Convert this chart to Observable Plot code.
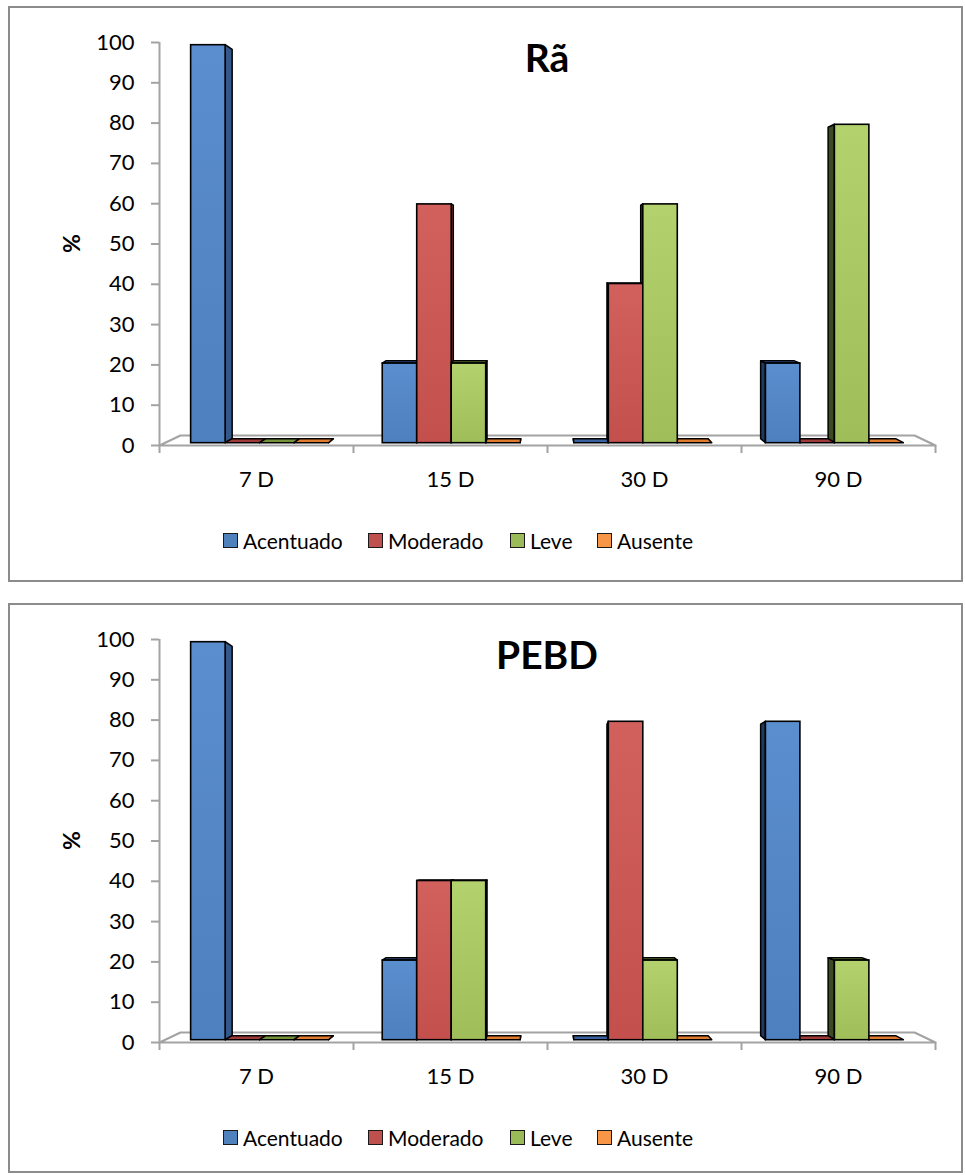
<!DOCTYPE html>
<html>
<head>
<meta charset="utf-8">
<script src="https://cdn.jsdelivr.net/npm/d3@7"></script>
<script src="https://cdn.jsdelivr.net/npm/@observablehq/plot@0.6"></script>
<style>
  body { margin: 0; background: #fff; font-family: Lato, "Open Sans", sans-serif; }
  .panel { position: absolute; left: 0; width: 965px; height: 590px; }
  .frame { position: absolute; left: 8px; top: 6px; width: 955px; height: 576px;
           border: 2px solid #8c8c8c; box-sizing: border-box; }
  .plot { position: absolute; left: 0; top: 0; }
  .title { position: absolute; left: 347px; width: 400px; top: 38px; text-align: center;
           font-weight: bold; font-size: 39px; line-height: 39px; color: #000; }
  .legend { position: absolute; left: 0; top: 530px; height: 21px; width: 965px; }
  .item { position: absolute; top: 0; display: flex; align-items: center;
          font-size: 21px; line-height: 21px; color: #000; white-space: nowrap; }
  .sw { width: 13px; height: 13px; border: 1.5px solid #1a1a1a; margin-right: 5px; }
</style>
</head>
<body>
<svg width="0" height="0" style="position:absolute">
  <defs id="grads"></defs>
</svg>
<div id="root"></div>
<script>
// Categories, series and tick values
const categories = ["7 D", "15 D", "30 D", "90 D"];
const series = ["Acentuado", "Moderado", "Leve", "Ausente"];
const yTicks = [0, 10, 20, 30, 40, 50, 60, 70, 80, 90, 100];

// Rã (% per series, one value per category)
const raAcentuado = [100, 20, 0, 20];
const raModerado  = [0, 60, 40, 0];
const raLeve      = [0, 20, 60, 80];
const raAusente   = [0, 0, 0, 0];

// PEBD
const pebdAcentuado = [100, 20, 0, 80];
const pebdModerado  = [0, 40, 80, 0];
const pebdLeve      = [0, 40, 20, 20];
const pebdAusente   = [0, 0, 0, 0];

// Colours per series
const legendColors = ["#4F81BD", "#C0504D", "#9BBB59", "#F79646"];
const frontTop     = ["#5B8ECE", "#D2605C", "#B3D26E", "#F9A462"];
const frontBottom  = ["#4E7FBE", "#C3504C", "#9FBE5A", "#F79646"];
const sideRight    = ["#35588A", "#8A3432", "#5E7530", "#B8661F"];
const sideLeft     = ["#213A5E", "#5C1F1D", "#3C4B1F", "#8A4A14"];
const topColors    = ["#3B62A0", "#9E3A37", "#74923A", "#E07A2C"];

// Gradients for the front faces
const defs = d3.select("#grads");
series.forEach((s, k) => {
  const g = defs.append("linearGradient").attr("id", `front${k}`)
    .attr("x1", 0).attr("y1", 0).attr("x2", 0).attr("y2", 1);
  g.append("stop").attr("offset", "0%").attr("stop-color", frontTop[k]);
  g.append("stop").attr("offset", "100%").attr("stop-color", frontBottom[k]);
});

// Simple perspective: points recede toward a vanishing point in data space
const VX = categories.length / 2, VY = 46;
const D_FRONT = 0.0124, D_BACK = 0.034, D_FLOOR = 0.054;
const GROUP_OFFSET = 0.14, BAR_W = 0.18;
const proj = (x, y, d) => [x + (VX - x) * d, y + (VY - y) * d];

function buildFaces(valuesBySeries) {
  const fronts = [], sides = [], tops = [];
  categories.forEach((c, i) => series.forEach((s, k) => {
    const v = valuesBySeries[k][i];
    const x1 = i + GROUP_OFFSET + k * BAR_W, x2 = x1 + BAR_W;
    const id = `${c}|${s}`;
    const [fx1, fy0] = proj(x1, 0, D_FRONT);
    const [fx2, fyv] = proj(x2, v, D_FRONT);
    fronts.push({id, x1: fx1, x2: fx2, y1: fy0, y2: fyv, fill: `url(#front${k})`});
    const right = x2 <= VX;
    const sx = right ? x2 : x1;
    for (const d of [D_FRONT, D_BACK]) {
      const [px, py0] = proj(sx, 0, d);
      const [, pyv] = proj(sx, v, d);
      sides.push({id, x: px, y1: py0, y2: pyv, fill: right ? sideRight[k] : sideLeft[k]});
    }
    if (v < VY) {
      for (const d of [D_FRONT, D_BACK]) {
        const [ax, py] = proj(x1, v, d);
        const [bx] = proj(x2, v, d);
        tops.push({id, y: py, x1: ax, x2: bx, fill: topColors[k]});
      }
    }
  }));
  return {fronts, sides, tops};
}

function floorOutline() {
  const n = categories.length;
  return [proj(0, 0, 0), proj(n, 0, 0), proj(n, 0, D_FLOOR), proj(0, 0, D_FLOOR), proj(0, 0, 0)]
    .map(([x, y]) => ({x, y}));
}

function makePanel(top, frameHeight, title, valuesBySeries) {
  const panel = document.createElement("div");
  panel.className = "panel";
  panel.style.top = top + "px";
  const frame = document.createElement("div");
  frame.className = "frame";
  frame.style.height = frameHeight + "px";
  panel.appendChild(frame);

  const {fronts, sides, tops} = buildFaces(valuesBySeries);
  const gray = "#a3a3a3";
  const chart = Plot.plot({
    width: 965, height: 500,
    marginLeft: 159, marginRight: 30, marginTop: 42, marginBottom: 55,
    x: {domain: [0, categories.length]},
    y: {domain: [0, 100]},
    color: {type: "identity"},
    style: {fontFamily: "Lato, 'Open Sans', sans-serif", fontSize: "22px", color: "#000", background: "transparent", overflow: "visible"},
    marks: [
      Plot.line(floorOutline(), {x: "x", y: "y", stroke: gray, strokeWidth: 2}),
      Plot.ruleX([0], {y1: 0, y2: 100, stroke: gray, strokeWidth: 2}),
      Plot.axisY(yTicks, {tickSize: 8, tickPadding: 17, stroke: gray, strokeWidth: 2, fill: "#000", fontSize: 22, label: null}),
      Plot.axisX(d3.range(categories.length + 1), {tickSize: 8, tickFormat: () => "", stroke: gray, strokeWidth: 2, label: null}),
      Plot.axisX(categories.map((c, i) => i + 0.5), {tickSize: 0, tickPadding: 26, tickFormat: (d) => categories[Math.floor(d)], fill: "#000", fontSize: 22, label: null}),
      Plot.text(["%"], {frameAnchor: "left", dx: -87, dy: 9, rotate: -90, fontWeight: "bold", fontSize: 23}),
      Plot.areaY(sides, {x: "x", y1: "y1", y2: "y2", z: "id", fill: "fill", stroke: "#000", strokeWidth: 1.5, strokeLinejoin: "round"}),
      Plot.areaX(tops, {y: "y", x1: "x1", x2: "x2", z: "id", fill: "fill", stroke: "#000", strokeWidth: 1.5, strokeLinejoin: "round"}),
      Plot.rect(fronts, {x1: "x1", x2: "x2", y1: "y1", y2: "y2", fill: "fill", stroke: "#000", strokeWidth: 1.6})
    ]
  });
  chart.classList.add("plot");
  panel.appendChild(chart);

  const t = document.createElement("div");
  t.className = "title";
  t.textContent = title;
  panel.appendChild(t);

  const legend = document.createElement("div");
  legend.className = "legend";
  const lefts = [223, 368, 510, 597];
  series.forEach((s, k) => {
    const item = document.createElement("div");
    item.className = "item";
    item.style.left = lefts[k] + "px";
    const sw = document.createElement("div");
    sw.className = "sw";
    sw.style.background = legendColors[k];
    item.appendChild(sw);
    item.appendChild(document.createTextNode(s));
    legend.appendChild(item);
  });
  panel.appendChild(legend);
  document.getElementById("root").appendChild(panel);
}

makePanel(0, 576, "Rã", [raAcentuado, raModerado, raLeve, raAusente]);
makePanel(597, 570, "PEBD", [pebdAcentuado, pebdModerado, pebdLeve, pebdAusente]);
</script>
</body>
</html>
